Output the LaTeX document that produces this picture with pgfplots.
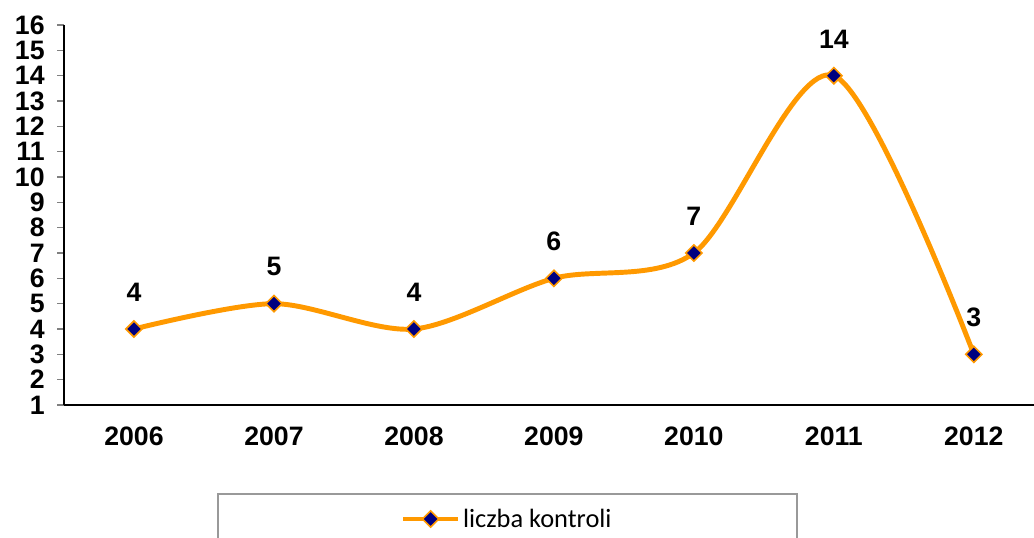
\documentclass[border=0pt]{standalone}
\usepackage{pgfplots}
\pgfplotsset{compat=1.18}
\usepackage{fontspec}
\setmainfont{Liberation Sans}
\newfontfamily\carlito{Carlito}
\definecolor{lineorange}{RGB}{255,153,0}
\definecolor{navyblue}{RGB}{0,0,128}
\begin{document}
\begin{tikzpicture}
\begin{axis}[
  at={(0,0)}, anchor=south west,
  scale only axis, width=727.5pt, height=285pt,
  xmin=-0.5, xmax=6.43, ymin=1, ymax=16,
  axis x line*=bottom, axis y line*=left,
  axis line style={-, black, line width=0.9pt},
  xtick={0,1,2,3,4,5,6},
  xticklabels={2006,2007,2008,2009,2010,2011,2012},
  major x tick style={draw=none},
  extra x ticks={-0.5,0.5,1.5,2.5,3.5,4.5,5.5},
  extra x tick labels={},
  extra x tick style={major tick length=5pt, tick style={gray, line width=0.8pt}},
  ytick={1,2,...,16},
  tick align=outside, major tick length=5pt,
  y tick style={gray, line width=0.8pt},
  tick label style={font=\fontsize{20}{22}\selectfont\bfseries},
  x tick label style={yshift=-8pt},
  y tick label style={xshift=-6pt},
  /pgf/number format/assume math mode=true,
  clip=false,
  legend style={at={(0.4572,-0.3)}, anchor=center, draw=none, fill=none,
    font=\carlito\fontsize{19.8}{22}\selectfont, legend cell align=left},
  legend image code/.code={\draw[mark repeat=2, mark phase=2, #1] plot coordinates {(0pt,0pt) (20.5pt,0pt) (41pt,0pt)};},
  nodes near coords,
  every node near coord/.append style={font=\fontsize{20}{22}\selectfont\bfseries, text=black, anchor=south, inner sep=0pt, yshift=20pt},
]
\addplot[color=lineorange, line width=3.7pt, smooth, tension=0.5,
  mark=square*, mark size=4.3pt,
  mark options={rotate=45, fill=navyblue, draw=lineorange, line width=1.2pt, solid}]
  coordinates {(0,4) (1,5) (2,4) (3,6) (4,7) (5,14) (6,3)};
\addlegendentry{liczba kontroli}
\end{axis}
\draw[gray!80, line width=0.8pt] (115.5pt,-66.75pt) rectangle (549.75pt,-140pt);
\pgfresetboundingbox
\useasboundingbox (-48pt,-99.75pt) rectangle (727.5pt,303.75pt);
\end{tikzpicture}
\end{document}
